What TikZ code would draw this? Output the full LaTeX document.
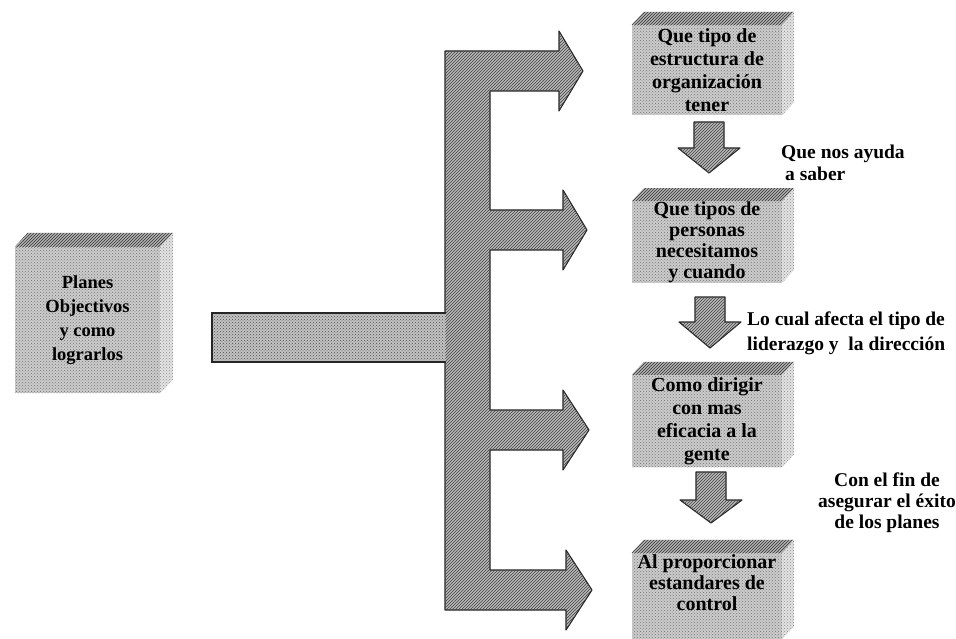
\documentclass[tikz,border=0pt]{standalone}
\usepackage{fontspec}
\setmainfont{Liberation Serif}
\usetikzlibrary{calc,patterns}
\newcommand\cubefaces[3]{%
  \fill[topface] (#1.north west) -- ++(#2,-#3) -- ($(#1.north east)+(#2,-#3)$) -- (#1.north east) -- cycle;
  \fill[sideface] (#1.north east) -- ++(#2,-#3) -- ($(#1.south east)+(#2,-#3)$) -- (#1.south east) -- cycle;}
\newcommand\downarrowshape[3]{% top centre, shaft length, head length
  \filldraw[smallarrow] (#1) ++(-15,0) -- ++(30,0) -- ++(0,#2) -- ++(16,0) -- ++(-31,#3) -- ++(-31,-#3) -- ++(16,0) -- cycle;}
\begin{document}
\begin{tikzpicture}[x=1pt,y=-1pt,
  boxtxt/.style={font=\bfseries\fontsize{20}{23}\selectfont, align=center, text=black},
  front/.style={fill=gray!40, postaction={pattern=crosshatch dots, pattern color=black!55}, inner sep=0pt, boxtxt},
  topface/.style={fill=gray!60, postaction={pattern=north east lines, pattern color=black!80}},
  sideface/.style={fill=gray!22, postaction={pattern=crosshatch dots, pattern color=black!45}},
  bigarrow/.style={fill=gray!55, draw=black!85, line width=1.1pt, line join=round, postaction={pattern=north east lines, pattern color=black!75}},
  hbarfill/.style={fill=gray!48, postaction={pattern=crosshatch dots, pattern color=black!70}},
  smallarrow/.style={fill=gray!55, draw=black!85, line width=1.1pt, line join=round, postaction={pattern=north east lines, pattern color=black!75}},
  lbl/.style={font=\bfseries\fontsize{19.5}{22}\selectfont, text=black, inner sep=0pt}]
\useasboundingbox (0,0) rectangle (956,639);

% left box
\node[front, minimum width=145pt, minimum height=146pt, font=\bfseries\fontsize{18.5}{24}\selectfont] (plan) at (87.5,320) {Planes\\Objectivos\\y como\\lograrlos};
\cubefaces{plan}{13}{14}

% right boxes
\node[front, minimum width=150pt, minimum height=90pt] (q1) at (707,70) {Que tipo de\\estructura de\\organización\\tener};
\cubefaces{q1}{12}{13}
\node[front, minimum width=150pt, minimum height=80pt, font=\bfseries\fontsize{20}{21}\selectfont] (q2) at (707,242) {Que tipos de\\personas\\necesitamos\\y cuando};
\cubefaces{q2}{12}{13}
\node[front, minimum width=150pt, minimum height=92pt] (q3) at (707,421) {Como dirigir\\con mas\\eficacia a la\\gente};
\cubefaces{q3}{12}{13}
\node[front, minimum width=150pt, minimum height=86pt, font=\bfseries\fontsize{20}{21}\selectfont] (q4) at (707,596) {Al proporcionar\\estandares de\\control\\\strut};
\cubefaces{q4}{12}{13}

% big branching arrow
\coordinate (vtop) at (445,51);
\draw[bigarrow] (vtop) -- (559,51) -- (559,31) -- (583,71) -- (559,111) -- (559,91) -- (490,91)
  -- (490,210) -- (563,210) -- (563,190) -- (587,230) -- (563,270) -- (563,250) -- (490,250)
  -- (490,410) -- (563,410) -- (563,390) -- (589,430) -- (563,470) -- (563,450) -- (490,450)
  -- (490,570) -- (566,570) -- (566,550) -- (592,590) -- (566,630) -- (566,610) -- (445,610) -- cycle;
\coordinate (hbl) at (212,313);
\coordinate (hbr) at (446,362);
\fill[hbarfill] (hbl) rectangle (hbr);
\draw[black!85, line width=1.1pt] (hbr |- hbl) -- (hbl) -- (hbl |- hbr) -- (hbr);

% small down arrows between boxes
\coordinate (a1) at (709,122);
\coordinate (a2) at (710,297);
\coordinate (a3) at (711,472);
\downarrowshape{a1}{26}{25}
\downarrowshape{a2}{25}{26}
\downarrowshape{a3}{28}{23}

% labels
\node[lbl, anchor=west, align=left] (l1) at (781,163) {Que nos ayuda\\\hspace{4pt}a saber};
\node[lbl, anchor=west, align=left, font=\bfseries\fontsize{19.5}{25}\selectfont] (l2) at (747,333) {Lo cual afecta el tipo de\\liderazgo y\ \ la dirección};
\node[lbl, align=center, font=\bfseries\fontsize{19.5}{21}\selectfont] (l3) at (887,503) {Con el fin de\\asegurar el éxito\\de los planes};
\end{tikzpicture}
\end{document}
